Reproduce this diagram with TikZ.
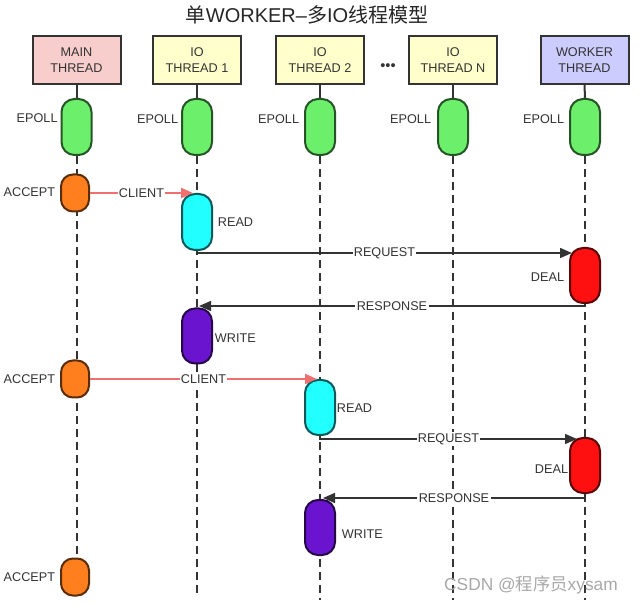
\documentclass[tikz,border=0pt]{standalone}
\usepackage{fontspec}
\setmainfont{Liberation Sans}
\newfontfamily\cjk{Noto Sans CJK SC}
\usetikzlibrary{arrows.meta,backgrounds,calc}
\newdimen\pxu \pxu=0.75pt
\definecolor{ink}{HTML}{333333}
\definecolor{mainfill}{HTML}{F8CECC}
\definecolor{iofill}{HTML}{FFFFCC}
\definecolor{wkfill}{HTML}{CCCCFF}
\definecolor{epgreen}{HTML}{6CF06C}
\definecolor{accor}{HTML}{FF7F1E}
\definecolor{rdcyan}{HTML}{22FFFF}
\definecolor{dlred}{HTML}{FF1010}
\definecolor{wrpurp}{HTML}{6A14D0}
\definecolor{clred}{HTML}{F07070}
\definecolor{wm}{HTML}{A8A8A8}
\begin{document}
\begin{tikzpicture}[x=0.75pt,y=-0.75pt,
  every node/.style={text=ink, font=\fontsize{9.5}{11.5}\selectfont},
  thr/.style={draw=ink, line width=1.5pt, fill=#1, minimum width=88\pxu, minimum height=48\pxu, align=center, inner sep=0pt},
  capsule/.style={draw=#1!35!black, fill=#1, line width=1.5pt, rounded corners=13\pxu, minimum width=30\pxu, minimum height=56\pxu, inner sep=0pt},
  small/.style={minimum width=28\pxu, minimum height=37\pxu, rounded corners=12\pxu},
  lbl/.style={inner sep=0.5pt},
  onarrow/.style={fill=white, inner sep=1pt},
  life/.style={draw=ink, line width=1.5pt, dash pattern=on 6pt off 3.75pt},
  tick/.style={draw=ink, line width=1.5pt},
  msg/.style={draw=ink, line width=1.1pt, -{Triangle[length=9pt,width=7.5pt]}},
  cli/.style={draw=clred, line width=1.5pt, -{Triangle[length=9pt,width=7.5pt]}},
]
\useasboundingbox (0,0) rectangle (640,606);

% title
\node[font=\fontsize{15}{18}\selectfont, text=black!85] (title) at (307,15) {{\cjk 单}WORKER–{\cjk 多}IO{\cjk 线程模型}};

% thread boxes
\node[thr=mainfill] (bm) at (76.5,60) {MAIN\\THREAD};
\node[thr=iofill] (b1) at (197,60) {IO\\THREAD 1};
\node[thr=iofill] (b2) at (320,60) {IO\\THREAD 2};
\node[thr=iofill] (bn) at (453,60) {IO\\THREAD N};
\node[thr=wkfill] (bw) at (584.5,60) {WORKER\\THREAD};
\node[font=\fontsize{11}{11}\selectfont] (dots) at (388,67) {•••};

% epoll
\node[capsule=epgreen] (epm) at (76.5,127) {};
\node[capsule=epgreen] (ep1) at (197,127) {};
\node[capsule=epgreen] (ep2) at (320,127) {};
\node[capsule=epgreen] (epn) at (453,127) {};
\node[capsule=epgreen] (epw) at (585,127) {};
\node[lbl, anchor=east] (lepm) at ($(epm.west)+(-2,-9)$) {EPOLL};
\node[lbl, anchor=east] (lep1) at ($(ep1.west)+(-2,-8)$) {EPOLL};
\node[lbl, anchor=east] (lep2) at ($(ep2.west)+(-4,-8)$) {EPOLL};
\node[lbl, anchor=east] (lepn) at ($(epn.west)+(-5,-8)$) {EPOLL};
\node[lbl, anchor=east] (lepw) at ($(epw.west)+(-4,-8)$) {EPOLL};

% activity nodes
\node[capsule=accor, small] (acc1) at (75,193) {};
\node[capsule=rdcyan] (read1) at (197,222) {};
\node[capsule=dlred, minimum height=55\pxu] (deal1) at (585,275.5) {};
\node[capsule=wrpurp, minimum height=55\pxu] (write1) at (197,336) {};
\node[capsule=accor, small] (acc2) at (75,379) {};
\node[capsule=rdcyan, minimum height=55\pxu] (read2) at (320,407.5) {};
\node[capsule=dlred, minimum height=55\pxu] (deal2) at (585,465.5) {};
\node[capsule=wrpurp, minimum height=55\pxu] (write2) at (320,527.5) {};
\node[capsule=accor, small] (acc3) at (75,577) {};

% activity labels
\node[lbl, anchor=east] (lacc1) at (56,192) {ACCEPT};
\node[lbl, anchor=east] (lacc2) at (56,379) {ACCEPT};
\node[lbl, anchor=east] (lacc3) at (56,577) {ACCEPT};
\node[lbl, anchor=west] (lread1) at (217,222.5) {READ};
\node[lbl, anchor=west] (lwrite1) at (214,338) {WRITE};
\node[lbl, anchor=east] (ldeal1) at (565,277) {DEAL};
\node[lbl, anchor=west] (lread2) at (336,408) {READ};
\node[lbl, anchor=west] (lwrite2) at (341,534) {WRITE};
\node[lbl, anchor=east] (ldeal2) at (569,469) {DEAL};

% end points of lifelines
\coordinate (endm) at (76.5,598);
\coordinate (end1) at (197,598);
\coordinate (end2) at (320,600);
\coordinate (endn) at (453,600);
\coordinate (endw) at (585,600);

\begin{scope}[on background layer]
  \draw[tick] (bm.south) -- (epm.north);
  \draw[tick] (b1.south) -- (ep1.north);
  \draw[tick] (b2.south) -- (ep2.north);
  \draw[tick] (bn.south) -- (epn.north);
  \draw[tick] (bw.south) -- (epw.north);
  \draw[life] (epm.south) -- (endm);
  \draw[life] (ep1.south) -- (end1);
  \draw[life] (ep2.south) -- (end2);
  \draw[life] (epn.south) -- (endn);
  \draw[life] (epw.south) -- (endw);
\end{scope}

% messages
\draw[cli] (acc1.east) -- ($(acc1.east -| read1.north)+(-4,0)$)
  node[onarrow, midway] (c1) {CLIENT};
\draw[msg] (read1.south) -- ++(0,2) coordinate (r1s) -- ($(r1s -| deal1.west)+(3,0)$)
  node[onarrow, pos=0.5] (q1) {REQUEST};
\draw[msg] (deal1.south) -- ++(0,2) coordinate (d1s) -- ($(d1s -| write1.north)+(2,0)$)
  node[onarrow, pos=0.5] (p1) {RESPONSE};
\draw[cli] (acc2.east) -- ($(acc2.east -| read2.north)+(-3,0)$)
  node[onarrow, midway] (c2) {CLIENT};
\draw[msg] (read2.south) -- ++(0,3) coordinate (r2s) -- ($(r2s -| deal2.west)+(8,0)$)
  node[onarrow, pos=0.5] (q2) {REQUEST};
\draw[msg] (deal2.south) -- ++(0,4) coordinate (d2s) -- ($(d2s -| write2.north)+(3,0)$)
  node[onarrow, pos=0.5] (p2) {RESPONSE};

% watermark
\node[text=wm, font=\fontsize{13}{15}\selectfont] (wmark) at (531,585) {CSDN @{\cjk 程序员}xysam};
\end{tikzpicture}
\end{document}
